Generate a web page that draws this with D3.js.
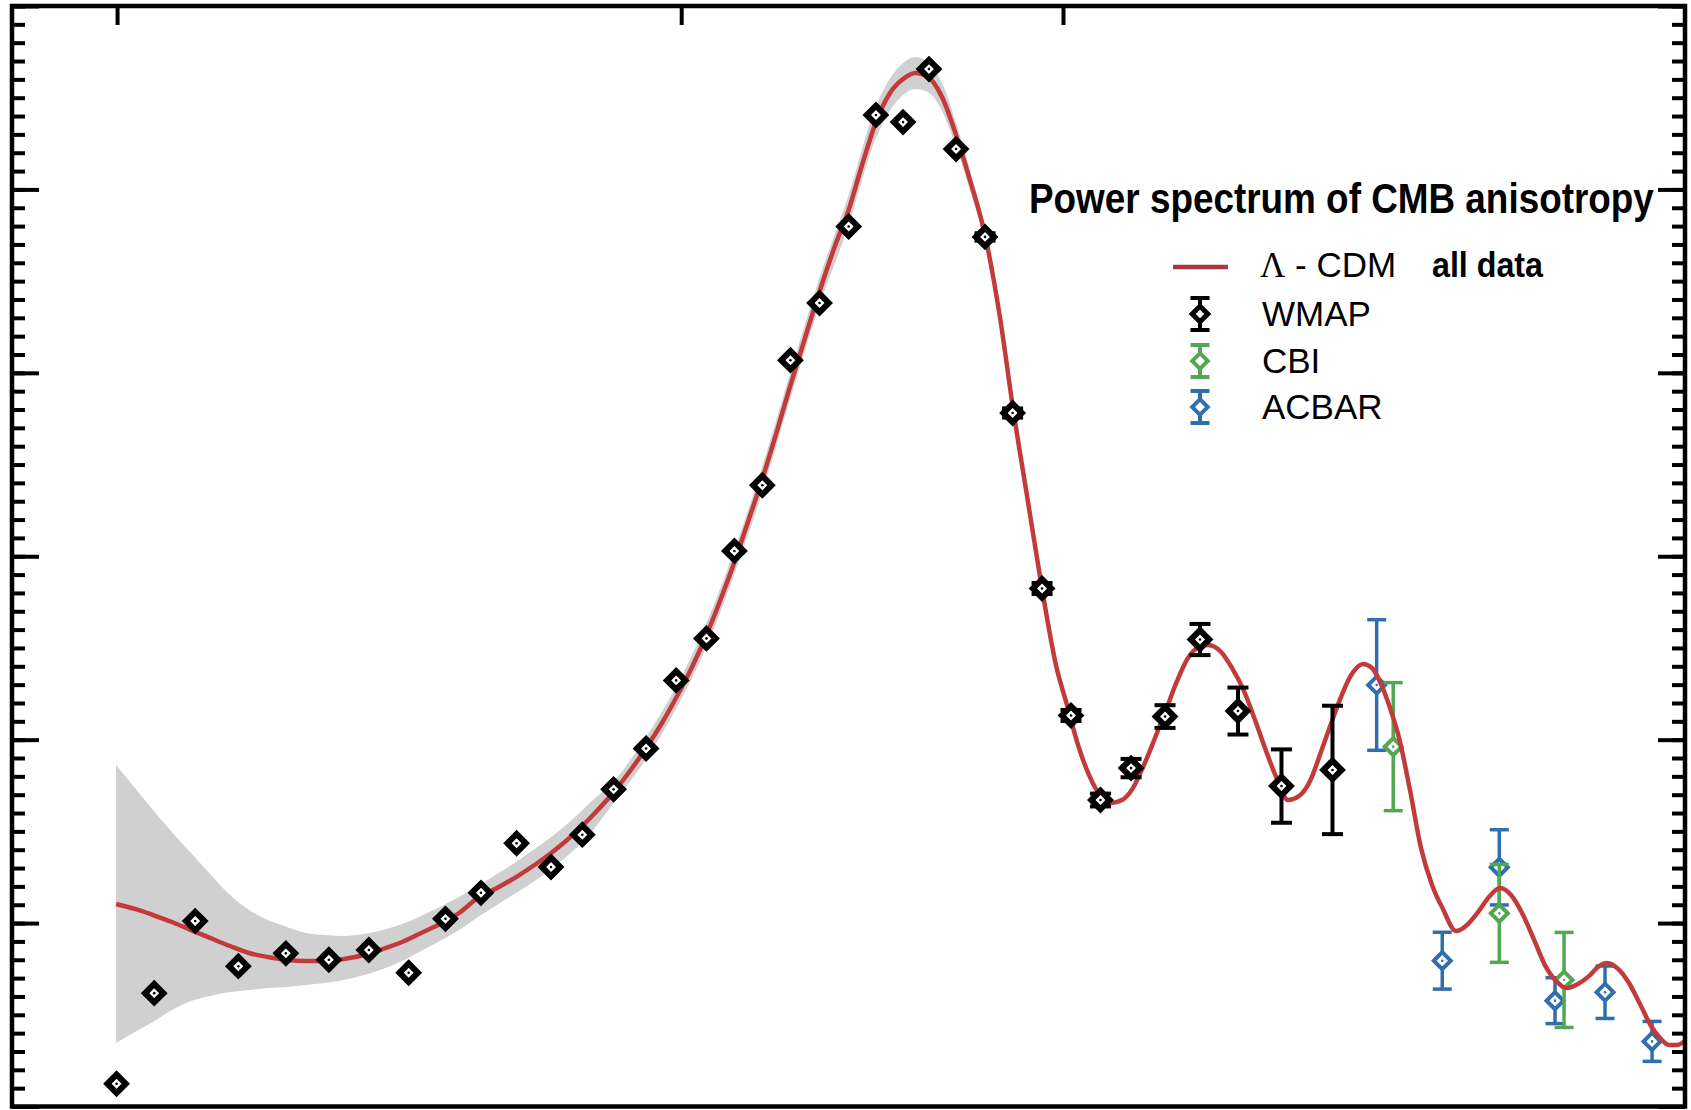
<!DOCTYPE html>
<html>
<head>
<meta charset="utf-8">
<script src="https://cdn.jsdelivr.net/npm/d3@7"></script>
<style>
  html, body { margin: 0; padding: 0; background: #fff; }
  svg { display: block; }
</style>
</head>
<body>
<svg id="chart" width="1691" height="1110"></svg>
<script>
//	x is a position along the multipole axis (0..100), y is l(l+1)Cl/2pi in uK^2

//	top axis tick positions
var xTopTicks = [6.28, 40.0, 62.82];

//	WMAP binned points
var wmapX = [6.25, 8.50, 10.95, 13.53, 16.37, 18.94, 21.33, 23.71, 25.91, 28.03,
             30.16, 32.22, 34.09, 35.96, 37.90, 39.70, 41.51, 43.18, 44.85, 46.53,
             48.27, 50.01, 51.64, 53.26, 54.81, 56.43, 58.16, 59.81, 61.57, 63.30,
             65.06, 66.89, 68.92, 71.01, 73.28, 75.88, 78.93];
var wmapY = [124, 618, 1011, 765, 835, 800, 853, 729, 1023, 1165,
             1435, 1306, 1482, 1729, 1952, 2323, 2552, 3029, 3387, 4069,
             4381, 4798, 5406, 5367, 5656, 5220, 4741, 3781, 2824, 2132,
             1671, 1845, 2126, 2546, 2156, 1747, 1835];
var wmapErr = [0, 0, 0, 0, 0, 0, 0, 0, 0, 0,
               0, 0, 0, 0, 0, 0, 0, 0, 0, 0,
               0, 0, 0, 0, 0, 0, 20, 25, 30, 30,
               35, 50, 62, 85, 128, 200, 350];

//	CBI points
var cbiX = [82.56, 88.90, 92.77];
var cbiY = [1962, 1053, 690];
var cbiErr = [349, 267, 259];

//	ACBAR points
var acbarX = [81.57, 85.49, 88.90, 92.23, 95.22, 98.03];
var acbarY = [2298, 795, 1304, 577, 623, 355];
var acbarErr = [356, 155, 205, 125, 143, 109];

//	Lambda-CDM best fit curve
var fitX = [6.22, 7.35, 8.43, 9.56, 10.70, 11.84, 13.03, 14.17, 15.30, 16.44,
            17.57, 18.71, 19.84, 21.04, 22.18, 23.31, 24.45, 25.58, 26.72, 27.85,
            28.99, 30.13, 31.32, 32.46, 33.59, 34.73, 35.92, 36.94, 37.90, 38.85,
            39.69, 40.65, 41.48, 42.32, 43.16, 43.99, 44.83, 45.67, 46.50, 47.40,
            48.30, 49.19, 49.97, 50.81, 51.64, 52.48, 53.26, 53.98, 54.75, 55.59,
            56.43, 57.26, 58.16, 59.06, 59.83, 60.73, 61.57, 62.40, 63.06, 63.72,
            64.38, 65.03, 65.69, 66.35, 67.00, 67.66, 68.32, 68.98, 69.64, 70.29,
            70.95, 71.49, 72.27, 72.92, 73.64, 74.30, 74.96, 75.61, 76.27, 76.93,
            77.59, 78.24, 78.90, 79.44, 79.98, 80.75, 81.29, 81.83, 82.37, 82.91,
            83.56, 84.22, 84.88, 85.53, 86.31, 86.97, 87.63, 88.28, 88.94, 89.60,
            90.32, 90.98, 91.63, 92.29, 92.95, 93.60, 94.26, 94.80, 95.34, 96.00,
            96.65, 97.31, 97.97, 98.51, 99.04, 99.52, 100];
var fitY = [1104, 1077, 1044, 1006, 962, 919, 875, 837, 815, 799,
            793, 793, 804, 826, 859, 897, 946, 995, 1055, 1137,
            1191, 1251, 1322, 1398, 1486, 1589, 1709, 1829, 1955, 2091,
            2227, 2396, 2565, 2756, 2963, 3187, 3416, 3666, 3923, 4190,
            4452, 4691, 4877, 5133, 5367, 5526, 5602, 5635, 5613, 5504,
            5297, 5051, 4751, 4299, 3808, 3296, 2821, 2407, 2189, 1971,
            1807, 1698, 1655, 1671, 1736, 1862, 2009, 2162, 2320, 2445,
            2505, 2516, 2478, 2391, 2265, 2107, 1938, 1786, 1671, 1693,
            1775, 1933, 2102, 2233, 2342, 2413, 2391, 2303, 2173, 2009,
            1726, 1409, 1208, 1077, 957, 990, 1060, 1142, 1191, 1153,
            1044, 908, 771, 684, 646, 668, 711, 761, 782, 750,
            673, 559, 439, 373, 335, 335, 357];

//	cosmic variance band around the fit
var bandX = [6.22, 7.35, 8.43, 9.56, 10.70, 11.84, 13.03, 14.17, 15.30, 16.44,
             17.57, 18.71, 19.84, 21.04, 22.18, 23.31, 24.45, 25.58, 26.72, 27.85,
             28.99, 30.13, 31.32, 32.46, 33.59, 34.73, 35.92, 37.90, 39.69, 41.48,
             43.16, 44.83, 46.50, 48.30, 49.97, 51.64, 53.26, 53.98, 54.75, 55.59,
             56.43, 57.26, 58.16, 59.06, 59.83, 60.73, 61.57];
var bandLo = [346, 406, 461, 526, 575, 602, 624, 635, 646, 652,
              662, 673, 690, 717, 750, 793, 848, 902, 962, 1033,
              1099, 1164, 1235, 1311, 1398, 1508, 1649, 1895, 2167, 2500,
              2898, 3345, 3852, 4376, 4795, 5280, 5515, 5548, 5531, 5428,
              5232, 4996, 4707, 4266, 3786, 3280, 2810];
var bandHi = [1862, 1736, 1617, 1497, 1382, 1268, 1153, 1072, 1017, 979,
              946, 935, 930, 940, 962, 995, 1039, 1088, 1142, 1202,
              1268, 1333, 1409, 1486, 1573, 1671, 1769, 2015, 2287, 2630,
              3028, 3487, 3994, 4528, 4959, 5454, 5689, 5722, 5695, 5580,
              5362, 5106, 4795, 4332, 3830, 3312, 2832];

var colRed = "#c23a3a", colLegendRed = "#a8383f",
    colBlue = "#2f6fad", colGreen = "#52a852", colBand = "#d0d0d0";

var svg = d3.select("#chart"),
        width = +svg.attr("width"),
        height = +svg.attr("height");

svg.append("rect").attr("width", width).attr("height", height).attr("fill", "#fff");

//	plot frame edges
var frameL = 12, frameR = 1685, frameT = 6, frameB = 1106.5;
var x = d3.scaleLinear().domain([0, 100]).range([frameL, frameR]);
var y = d3.scaleLinear().domain([0, 6000]).range([frameB, frameT]);

//	band
var band = bandX.map(function (d, i) { return {x: d, lo: bandLo[i], hi: bandHi[i]}; });
svg.append("path")
        .datum(band)
        .attr("fill", colBand)
        .attr("d", d3.area()
                .curve(d3.curveMonotoneX)
                .x(function (d) { return x(d.x); })
                .y0(function (d) { return y(d.lo); })
                .y1(function (d) { return y(d.hi); }));

//	point drawing
function drawPoints(xs, ys, errs, color, opt) {
    var g = svg.append("g");
    xs.forEach(function (xv, i) {
        var cx = x(xv), cy = y(ys[i]);
        if (errs[i] > 0) {
            var y0 = y(ys[i] - errs[i]), y1 = y(ys[i] + errs[i]);
            g.append("line").attr("x1", cx).attr("x2", cx).attr("y1", y0).attr("y2", y1)
                    .attr("stroke", color).attr("stroke-width", opt.bar);
            [y0, y1].forEach(function (yy) {
                g.append("line").attr("x1", cx - opt.cap / 2).attr("x2", cx + opt.cap / 2)
                        .attr("y1", yy).attr("y2", yy)
                        .attr("stroke", color).attr("stroke-width", opt.bar);
            });
        }
        g.append("rect")
                .attr("x", -opt.side / 2).attr("y", -opt.side / 2)
                .attr("width", opt.side).attr("height", opt.side)
                .attr("transform", "translate(" + cx + "," + cy + ") rotate(45)")
                .attr("fill", "#fff").attr("stroke", color).attr("stroke-width", opt.stroke);
        g.append("circle").attr("cx", cx).attr("cy", cy).attr("r", 1.3).attr("fill", color);
    });
}

drawPoints(acbarX, acbarY, acbarErr, colBlue, {side: 12, stroke: 4, bar: 3.5, cap: 19});
drawPoints(cbiX, cbiY, cbiErr, colGreen, {side: 12, stroke: 4, bar: 3.5, cap: 19});

//	fit curve
svg.append("path")
        .datum(fitX.map(function (d, i) { return [d, fitY[i]]; }))
        .attr("fill", "none")
        .attr("stroke", colRed)
        .attr("stroke-width", 4.5)
        .attr("d", d3.line()
                .curve(d3.curveMonotoneX)
                .x(function (d) { return x(d[0]); })
                .y(function (d) { return y(d[1]); }));

drawPoints(wmapX, wmapY, wmapErr, "#000", {side: 13, stroke: 6, bar: 4, cap: 21});

//	axes: ticks only, inward
function styleAxis(g) {
    g.select(".domain").remove();
    g.selectAll(".tick line").attr("stroke", "#000").attr("stroke-width", 4);
    g.selectAll(".tick text").remove();
}
var minor = d3.range(0, 6001, 100), major = d3.range(0, 6001, 1000);
svg.append("g").attr("transform", "translate(" + frameL + ",0)")
        .call(d3.axisLeft(y).tickValues(minor).tickSize(-13).tickFormat("")).call(styleAxis);
svg.append("g").attr("transform", "translate(" + frameL + ",0)")
        .call(d3.axisLeft(y).tickValues(major).tickSize(-27).tickFormat("")).call(styleAxis);
svg.append("g").attr("transform", "translate(" + frameR + ",0)")
        .call(d3.axisRight(y).tickValues(minor).tickSize(-13).tickFormat("")).call(styleAxis);
svg.append("g").attr("transform", "translate(" + frameR + ",0)")
        .call(d3.axisRight(y).tickValues(major).tickSize(-27).tickFormat("")).call(styleAxis);
svg.append("g").attr("transform", "translate(0," + frameT + ")")
        .call(d3.axisTop(x).tickValues(xTopTicks).tickSize(-19).tickFormat("")).call(styleAxis);

//	frame
svg.append("rect")
        .attr("x", frameL).attr("y", frameT)
        .attr("width", frameR - frameL).attr("height", frameB - frameT)
        .attr("fill", "none").attr("stroke", "#000").attr("stroke-width", 4.5);

//	condensed bold text: squeeze horizontally to the wanted width
function condensed(parent, x0, y0, size, wantW, str) {
    var g = parent.append("g").attr("transform", "translate(" + x0 + "," + y0 + ")");
    var t = g.append("text")
            .attr("font-family", "Liberation Sans, Arial, sans-serif")
            .attr("font-weight", "bold").attr("font-size", size)
            .text(str);
    var natural = t.node().getComputedTextLength();
    t.attr("transform", "scale(" + (wantW / natural) + ",1)");
    return t;
}

//	title and legend
condensed(svg, 1029, 213, 43, 625, "Power spectrum of CMB anisotropy");

var lg = svg.append("g").attr("font-family", "Liberation Sans, Arial, sans-serif").attr("font-size", 35);
lg.append("line").attr("x1", 1173).attr("x2", 1228).attr("y1", 267).attr("y2", 267)
        .attr("stroke", colLegendRed).attr("stroke-width", 4.5);
var lt = lg.append("text").attr("x", 1260).attr("y", 277);
lt.append("tspan").attr("font-family", "Liberation Serif, Times New Roman, serif").text("\u039B");
lt.append("tspan").text(" - CDM");
condensed(lg, 1432, 277, 35, 111, "all data");

var legendRows = [
    {name: "WMAP", color: "#000", cy: 314, sw: 5},
    {name: "CBI", color: colGreen, cy: 361, sw: 4},
    {name: "ACBAR", color: colBlue, cy: 407, sw: 4}
];
legendRows.forEach(function (r) {
    var cx = 1200;
    lg.append("line").attr("x1", cx).attr("x2", cx).attr("y1", r.cy - 16).attr("y2", r.cy + 16)
            .attr("stroke", r.color).attr("stroke-width", 4);
    [r.cy - 16, r.cy + 16].forEach(function (yy) {
        lg.append("line").attr("x1", cx - 9.5).attr("x2", cx + 9.5).attr("y1", yy).attr("y2", yy)
                .attr("stroke", r.color).attr("stroke-width", 4);
    });
    lg.append("rect").attr("x", -5.5).attr("y", -5.5).attr("width", 11).attr("height", 11)
            .attr("transform", "translate(" + cx + "," + r.cy + ") rotate(45)")
            .attr("fill", "#fff").attr("stroke", r.color).attr("stroke-width", r.sw);
    lg.append("text").attr("x", 1262).attr("y", r.cy + 12).text(r.name);
});
</script>
</body>
</html>
